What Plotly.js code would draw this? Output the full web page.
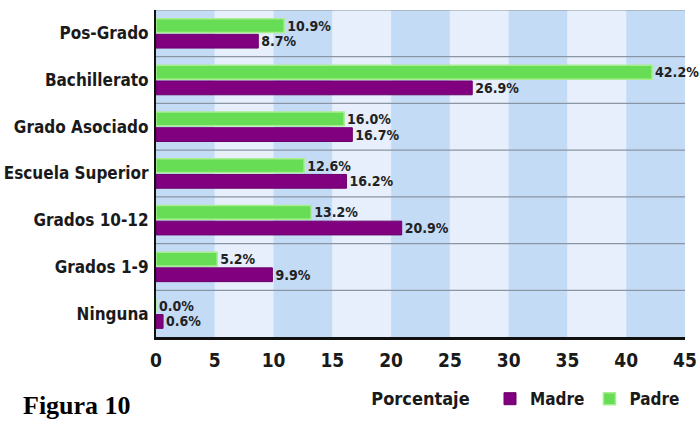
<!DOCTYPE html>
<html>
<head>
<meta charset="utf-8">
<script src="https://cdn.plot.ly/plotly-3.0.1.min.js"></script>
<style>html,body{margin:0;padding:0;background:#fff;}</style>
</head>
<body>
<div id="chart" style="width:699px;height:427px;"></div>
<script>
const categories = ["Ninguna", "Grados 1-9", "Grados 10-12", "Escuela Superior", "Grado Asociado", "Bachillerato", "Pos-Grado"];
const madre = [0.6, 9.9, 20.9, 16.2, 16.7, 26.9, 8.7];
const padre = [0.0, 5.2, 13.2, 12.6, 16.0, 42.2, 10.9];
const xTicks = [0, 5, 10, 15, 20, 25, 30, 35, 40, 45];

const FONT = '"DejaVu Sans Condensed", "Liberation Sans Narrow", "Liberation Sans", Arial, sans-serif';

const shapes = [];
for (let i = 0; i < xTicks.length - 1; i++) {
  shapes.push({
    type: 'rect', xref: 'x', yref: 'paper', layer: 'below',
    x0: xTicks[i], x1: xTicks[i + 1], y0: 0, y1: 1,
    fillcolor: i % 2 === 0 ? '#c4dbf6' : '#e6effb', line: {width: 0}
  });
}
for (let i = 0; i < categories.length; i++) {
  shapes.push({
    type: 'line', xref: 'paper', yref: 'y', layer: 'below',
    x0: 0, x1: 1, y0: i + 0.5, y1: i + 0.5,
    line: {color: '#8a96a3', width: 1.2}
  });
}

const traces = [
  {
    type: 'bar', orientation: 'h', name: 'Madre',
    y: categories, x: madre,
    marker: {color: '#800080', line: {color: '#6a006a', width: 1}},
    text: madre.map(v => v.toFixed(1) + '%'),
    textposition: 'outside', cliponaxis: false, constraintext: 'none',
    textfont: {family: FONT, size: 14, color: '#222', weight: 'bold'}
  },
  {
    type: 'bar', orientation: 'h', name: 'Padre',
    y: categories, x: padre,
    marker: {color: '#66dd55', line: {color: '#a8ee90', width: 1.5}},
    text: padre.map(v => v.toFixed(1) + '%'),
    textposition: 'outside', cliponaxis: false, constraintext: 'none',
    textfont: {family: FONT, size: 14, color: '#222', weight: 'bold'}
  }
];

const layout = {
  width: 699, height: 427,
  margin: {l: 156, r: 14, t: 10, b: 72},
  paper_bgcolor: '#ffffff', plot_bgcolor: '#e6effb',
  barmode: 'group', bargap: 0.33, bargroupgap: 0.12,
  font: {family: FONT, size: 16, color: '#1a1a1a', weight: 'bold'},
  showlegend: true,
  legend: {
    orientation: 'h', x: 1, xanchor: 'right', y: -0.135, yanchor: 'top',
    font: {family: FONT, size: 17, color: '#1a1a1a', weight: 'bold'},
    itemwidth: 30, bgcolor: 'rgba(0,0,0,0)'
  },
  xaxis: {
    range: [0, 45], tickvals: xTicks, ticktext: xTicks.map(String),
    showgrid: false, zeroline: false,
    showline: true, linecolor: '#111', linewidth: 2.5,
    ticks: '', tickfont: {family: FONT, size: 19, weight: 'bold'},
    ticklabelstandoff: 5,
    title: {text: 'Porcentaje', font: {family: FONT, size: 18, weight: 'bold'}, standoff: 22},
    fixedrange: true
  },
  yaxis: {
    type: 'category', range: [-0.5, 6.5],
    showgrid: false, zeroline: false,
    showline: true, linecolor: '#111', linewidth: 2,
    ticks: '', tickfont: {family: FONT, size: 17, weight: 'bold'},
    ticklabelstandoff: 2,
    fixedrange: true
  },
  shapes: shapes,
  annotations: [{
    xref: 'paper', yref: 'paper', x: -0.256, y: -0.16, xanchor: 'left', yanchor: 'top',
    text: '<b>Figura 10</b>', showarrow: false,
    font: {family: '"Liberation Serif", "Times New Roman", serif', size: 26, color: '#000'}
  }]
};

Plotly.newPlot('chart', traces, layout, {displayModeBar: false, staticPlot: true});
</script>
</body>
</html>
